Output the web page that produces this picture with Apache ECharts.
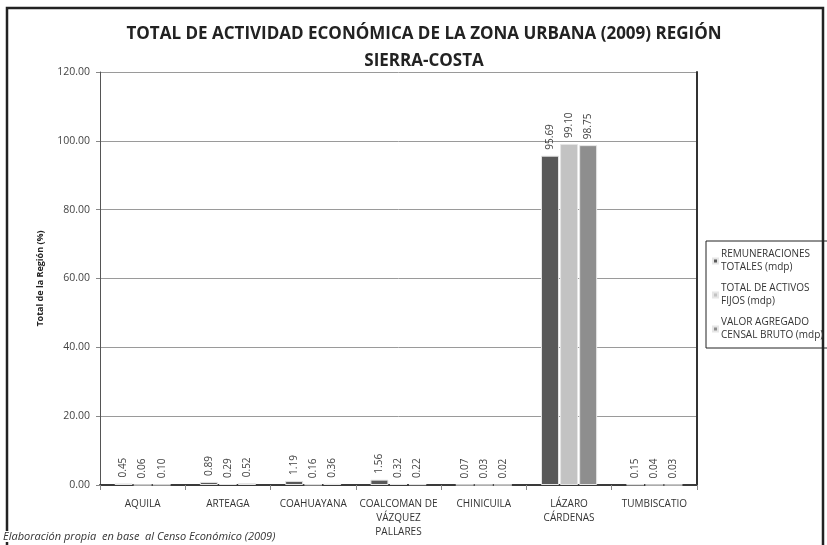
<!DOCTYPE html>
<html>
<head>
<meta charset="utf-8">
<script src="https://cdn.jsdelivr.net/npm/echarts@6/dist/echarts.min.js"></script>
<style>
  body { margin: 0; background: #fff; }
  #chart { width: 827px; height: 545px; }
</style>
</head>
<body>
<div id="chart"></div>
<script>
// municipios de la region
var municipios = ["AQUILA", "ARTEAGA", "COAHUAYANA", "COALCOMAN DE\nVÁZQUEZ\nPALLARES", "CHINICUILA", "LÁZARO\nCÁRDENAS", "TUMBISCATIO"]

var remuneraciones = [0.45, 0.89, 1.19, 1.56, 0.07, 95.69, 0.15]
var activosFijos = [0.06, 0.29, 0.16, 0.32, 0.03, 99.10, 0.04]
var valorAgregado = [0.10, 0.52, 0.36, 0.22, 0.02, 98.75, 0.03]

var nombresSeries = ["REMUNERACIONES\nTOTALES (mdp)", "TOTAL DE ACTIVOS\nFIJOS (mdp)", "VALOR AGREGADO\nCENSAL BRUTO (mdp)"]
var colores = ["#595959", "#c3c3c3", "#8e8e8e"]

var fuente = "'Open Sans', sans-serif"

function serie(nombre, datos, color) {
  return {
    name: nombre,
    type: "bar",
    data: datos,
    barWidth: 18,
    barGap: "6%",
    itemStyle: { color: color, borderColor: "#e6e6e6", borderWidth: 1 },
    label: {
      show: true,
      position: "top",
      rotate: 90,
      align: "left",
      verticalAlign: "middle",
      distance: 6,
      fontSize: 10,
      fontFamily: fuente,
      color: "#444",
      formatter: function (p) { return p.value.toFixed(2) }
    }
  }
}

var chart = echarts.init(document.getElementById("chart"))
chart.setOption({
  animation: false,
  textStyle: { fontFamily: fuente },
  title: {
    text: "TOTAL DE ACTIVIDAD ECONÓMICA DE LA ZONA URBANA (2009) REGIÓN\nSIERRA-COSTA",
    left: 419,
    textAlign: "center",
    top: 16,
    textStyle: { fontSize: 17, fontWeight: "bold", color: "#222", lineHeight: 27, fontFamily: fuente }
  },
  legend: {
    orient: "vertical",
    left: 706,
    top: 241,
    icon: "rect",
    itemWidth: 5,
    itemHeight: 5,
    itemGap: 8,
    borderColor: "#222",
    borderWidth: 1,
    padding: [7, 8, 6, 6],
    textStyle: { fontSize: 10, color: "#333", lineHeight: 13, fontFamily: fuente, padding: [0, 0, 0, -2] },
    data: nombresSeries
  },
  grid: { left: 100, right: 130, top: 72, bottom: 60 },
  xAxis: {
    type: "category",
    data: municipios,
    axisLine: { lineStyle: { color: "#3a3a3a", width: 2 } },
    axisTick: { show: true, length: 5, lineStyle: { color: "#888" } },
    axisLabel: { interval: 0, fontSize: 10, color: "#333", margin: 12, lineHeight: 14, fontFamily: fuente }
  },
  yAxis: [{
    type: "value",
    min: 0,
    max: 120,
    interval: 20,
    name: "Total de la Región (%)",
    nameLocation: "middle",
    nameGap: 55,
    nameTextStyle: { fontSize: 9, fontWeight: "bold", color: "#222", fontFamily: fuente },
    axisLine: { show: true, lineStyle: { color: "#555", width: 1 } },
    axisTick: { show: true, length: 4, lineStyle: { color: "#888" } },
    axisLabel: { fontSize: 10.5, color: "#444", margin: 10, fontFamily: fuente, formatter: function (v) { return v.toFixed(2) } },
    splitLine: { lineStyle: { color: "#9a9a9a", width: 1 } }
  }, {
    type: "value",
    min: 0,
    max: 120,
    interval: 20,
    position: "right",
    axisLine: { show: true, lineStyle: { color: "#333", width: 2 } },
    axisTick: { show: false },
    axisLabel: { show: false },
    splitLine: { show: false }
  }],
  series: [
    serie(nombresSeries[0], remuneraciones, colores[0]),
    serie(nombresSeries[1], activosFijos, colores[1]),
    serie(nombresSeries[2], valorAgregado, colores[2])
  ],
  graphic: [
    {
      type: "rect",
      shape: { x: 7, y: 8, width: 816, height: 600 },
      style: { fill: null, stroke: "#222", lineWidth: 2.5 },
      z: -1
    },
    {
      type: "text",
      left: 3,
      top: 531,
      style: {
        text: "Elaboración propia  en base  al Censo Económico (2009)",
        fontSize: 11,
        fontStyle: "italic",
        fontFamily: fuente,
        fill: "#333",
        backgroundColor: "#fff"
      }
    }
  ]
})
</script>
</body>
</html>
